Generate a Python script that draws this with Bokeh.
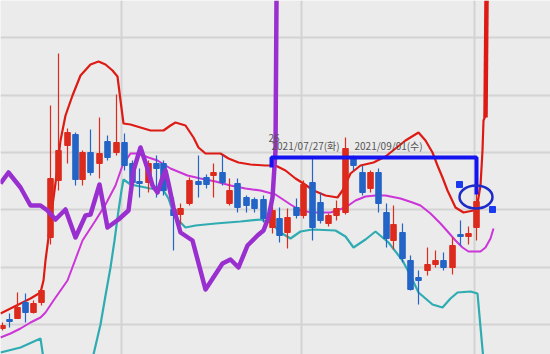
from bokeh.plotting import figure
from bokeh.models import Range1d, FixedTicker, ColumnDataSource
from bokeh.core.properties import value
from bokeh.embed import file_html
from bokeh.resources import INLINE

# ---------------- data (chart units; y grows downward on this chart's scale) ----------------
candle_x     = [2, 9, 17, 25, 33, 41, 50, 58, 67, 75, 82, 90, 99, 107, 116, 124, 132, 139, 148, 156,
                163, 173, 180, 189, 198, 206, 213, 222, 229, 237, 246, 254, 263, 272, 279, 287, 296, 303,
                312, 320, 328, 336, 345, 353, 362, 370, 378, 386, 393, 402, 410, 418, 427, 435, 443, 452,
                460, 468, 476]
candle_open  = [328, 319, 318, 302, 312, 302, 237, 180, 145, 134, 179, 152, 163, 141, 152, 142, 163, 181, 182, 163,
                163, 209, 214, 203, 181, 177, 175, 172, 203, 183, 197, 199, 199, 227, 218, 232, 207, 215,
                182, 202, 223, 215, 212, 158, 172, 188, 172, 212, 240, 232, 260, 277, 270, 264, 260, 267,
                234, 236, 227]
candle_high  = [322, 313, 292, 293, 300, 288, 105, 53, 128, 132, 150, 129, 117, 135, 94, 133, 160, 168, 160, 155,
                160, 197, 203, 177, 155, 174, 163, 155, 178, 178, 195, 197, 195, 205, 207, 208, 198, 180,
                158, 192, 213, 200, 137, 155, 165, 170, 168, 203, 205, 223, 255, 270, 247, 250, 252, 237,
                220, 226, 185]
candle_low   = [330, 327, 318, 322, 313, 305, 244, 190, 163, 185, 185, 175, 178, 160, 155, 170, 190, 197, 192, 197,
                195, 250, 224, 205, 197, 188, 197, 185, 205, 212, 212, 212, 222, 233, 242, 248, 218, 218,
                240, 223, 226, 220, 214, 170, 195, 192, 212, 247, 249, 262, 290, 304, 275, 267, 270, 274,
                245, 244, 240]
candle_close = [325, 321, 307, 312, 303, 290, 178, 150, 132, 179, 152, 172, 153, 157, 142, 165, 182, 183, 163, 168,
                190, 215, 208, 180, 184, 184, 172, 182, 190, 207, 205, 208, 218, 210, 235, 217, 215, 184,
                227, 220, 215, 208, 148, 165, 192, 172, 203, 238, 224, 258, 289, 280, 264, 260, 267, 245,
                236, 233, 201]

upper_x = [0, 10, 20, 30, 40, 43, 45, 48, 52, 56, 60, 65, 72, 80, 90, 98, 105, 112, 117, 120, 123, 130, 140,
           150, 163, 170, 175, 185, 193, 198, 205, 220, 228, 238, 250, 265, 275, 285, 295, 303, 313, 325, 337,
           342, 350, 360, 373, 385, 395, 405, 418, 425, 432, 437, 442, 447, 455, 463, 473, 477, 480, 482, 483, 485]
upper_y = [313, 308, 303, 298, 292, 280, 260, 237, 205, 175, 140, 115, 95, 75, 64, 61, 64, 70, 76, 100, 123, 124, 127,
           130, 130, 125, 122, 125, 137, 147, 153, 153, 158, 162, 164, 165, 165, 170, 178, 183, 190, 195, 197,
           190, 173, 165, 162, 156, 148, 140, 132, 140, 152, 165, 177, 190, 207, 212, 210, 203, 185, 150, 120, 115]
spike_x = [485, 486]
spike_y = [117, 0]

middle_x = [0, 10, 20, 30, 40, 45, 53, 67, 82, 95, 105, 115, 122, 130, 137, 148, 157, 170, 187, 200, 215, 230, 245,
            260, 275, 290, 300, 312, 330, 345, 355, 365, 375, 385, 400, 412, 420, 430, 440, 448, 455, 462, 468,
            480, 485, 490, 493]
middle_y = [337, 333, 328, 322, 317, 312, 300, 280, 240, 220, 204, 185, 165, 153, 153, 157, 160, 168, 175, 178, 181,
            185, 188, 190, 194, 204, 210, 212, 212, 207, 200, 196, 195, 195, 198, 202, 205, 213, 223, 232, 240, 247,
            251, 251, 247, 238, 228]

lower_x = [0, 20, 40, 45, 70, 93, 100, 105, 110, 114, 118, 121, 123, 130, 150, 163, 168, 172, 178, 185, 195, 215,
           240, 260, 270, 280, 290, 300, 312, 335, 345, 353, 365, 375, 388, 402, 410, 418, 432, 442, 450, 457,
           470, 477, 483]
lower_y = [352, 347, 338, 372, 420, 354, 324, 295, 267, 240, 210, 190, 179, 184, 188, 190, 198, 210, 220, 227, 225,
           223, 221, 219, 222, 232, 238, 231, 229, 230, 236, 247, 239, 231, 242, 260, 275, 292, 304, 307, 298,
           292, 291, 293, 360]

osc_x = [0, 8, 20, 30, 40, 47, 55, 65, 75, 85, 90, 99, 107, 118, 128, 133, 140, 147, 152, 157, 162, 165, 168,
         173, 180, 186, 192, 205, 222, 230, 238, 247, 257, 263, 268, 272, 275, 276]
osc_y = [183, 172, 187, 205, 205, 210, 219, 209, 237, 215, 214, 184, 227, 219, 210, 170, 147, 168, 185, 192, 177,
         170, 183, 207, 232, 236, 240, 289, 263, 259, 267, 245, 235, 230, 217, 197, 150, 0]

box_x = [271, 271, 476, 476]
box_y = [167, 157, 157, 194]

ellipse_x = [475.5]
ellipse_y = [196.5]
handle_x = [459, 492]
handle_y = [184, 209]

label_x = [271, 354]
label_y = [152, 152]
label_text = ["2021/07/27(화)", "2021/09/01(수)"]
small_label = ["26"]
small_label_x = [279]
small_label_y = [141]

grid_x = [121, 301, 474]
grid_y = [37, 95, 152, 209, 267, 324]

# ---------------- figure ----------------
p = figure(width=550, height=354, x_range=Range1d(0, 550), y_range=Range1d(354, 0),
           output_backend="svg", toolbar_location=None, min_border=0,
           background_fill_color="#ebebeb", border_fill_color="#ebebeb", outline_line_color=None)
p.xaxis.visible = False
p.yaxis.visible = False
p.xgrid.ticker = FixedTicker(ticks=grid_x)
p.ygrid.ticker = FixedTicker(ticks=grid_y)
p.xgrid.grid_line_color = "#d3d3d3"
p.ygrid.grid_line_color = "#d3d3d3"
p.xgrid.grid_line_width = 2
p.ygrid.grid_line_width = 2

# bands
p.line(lower_x, lower_y, line_color="#2fabb2", line_width=2.2)
p.line(middle_x, middle_y, line_color="#cc35d8", line_width=2)
p.line(upper_x, upper_y, line_color="#dd1a14", line_width=2.2)
p.line(spike_x, spike_y, line_color="#dd1a14", line_width=4.5)

# candles
colors = ["#dc2a1c" if c < o else "#2364c6" for o, c in zip(candle_open, candle_close)]
top = [min(o, c) for o, c in zip(candle_open, candle_close)]
bot = [max(o, c) if abs(o - c) >= 2 else min(o, c) + 2 for o, c in zip(candle_open, candle_close)]
src = ColumnDataSource(dict(x=candle_x, high=candle_high, low=candle_low, top=top, bot=bot, color=colors))
p.segment(x0="x", y0="high", x1="x", y1="low", color="color", line_width=1.2, source=src)
p.vbar(x="x", top="top", bottom="bot", width=5.5, fill_color="color", line_color="color", source=src)

# thick purple line
p.line(osc_x, osc_y, line_color="#9a2fd0", line_width=4.5, line_join="round")

# annotations
p.line(box_x, box_y, line_color="#1414f0", line_width=4)
p.ellipse(x=ellipse_x, y=ellipse_y, width=33, height=23, fill_color=None,
          line_color="#1f2bc8", line_width=2.5)
p.scatter(x=handle_x, y=handle_y, marker="square", size=6, fill_color="#1a3af0", line_color="#1a3af0")

p.text(x=label_x, y=label_y, text=label_text, text_font=value("Noto Sans CJK KR"),
       text_font_size="10px", text_color="#555555", text_baseline="bottom", text_align="left")
p.text(x=small_label_x, y=small_label_y, text=small_label, text_font=value("Noto Sans CJK KR"),
       text_font_size="10px", text_color="#555555", text_baseline="bottom", text_align="right")

open("out.html", "w").write(file_html(p, INLINE))
